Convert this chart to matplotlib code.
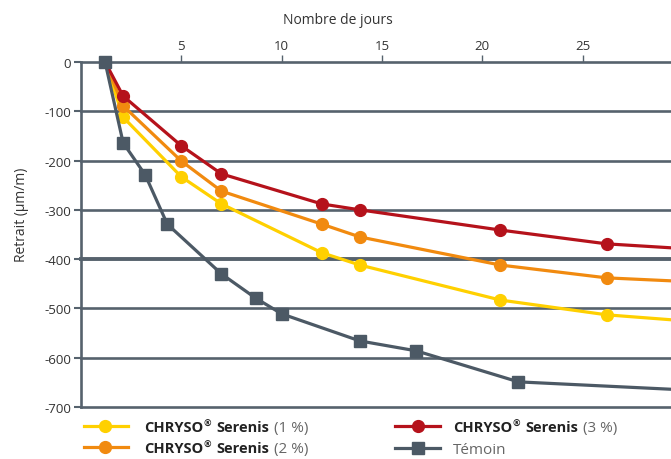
import matplotlib
matplotlib.use("Agg")
import matplotlib.pyplot as plt
from matplotlib.lines import Line2D

plt.rcParams['font.family'] = ['Open Sans', 'DejaVu Sans']

# days and shrinkage (um/m); last point sits on the right edge
days_adj = [1.2, 2.1, 5.0, 7.0, 12.0, 13.9, 20.9, 26.2, 29.4]
serenis_1 = [0, -112, -233, -288, -387, -412, -483, -513, -523]
serenis_2 = [0, -89, -201, -262, -329, -355, -412, -438, -444]
serenis_3 = [0, -69, -170, -227, -288, -300, -341, -369, -377]

days_ref = [1.2, 2.1, 3.2, 4.3, 7.0, 8.7, 10.0, 13.9, 16.7, 21.8, 29.4]
temoin = [0, -164, -229, -329, -430, -479, -511, -566, -586, -649, -664]

x_ticks = [5, 10, 15, 20, 25]
y_ticks = [0, -100, -200, -300, -400, -500, -600, -700]

c_yellow = '#ffd000'
c_orange = '#f18a0f'
c_red = '#b5121b'
c_gray = '#4c5965'
c_axis = '#56626d'

fig = plt.figure(figsize=(6.71, 4.60), dpi=100)
ax = fig.add_axes([81 / 671, 1 - 408 / 460, 1 - 81 / 671, (408 - 63) / 460])

ax.set_xlim(0, 29.4)
ax.set_ylim(-700, 0)

# horizontal grid
for v in y_ticks:
    ax.axhline(v, color=c_axis, lw=2.8 if v == -400 else 1.9, zorder=1, clip_on=False)

series = [
    (days_adj, serenis_1, c_yellow, 'o'),
    (days_adj, serenis_2, c_orange, 'o'),
    (days_adj, serenis_3, c_red, 'o'),
]
for xs, ys, c, m in series:
    ax.plot(xs, ys, color=c, lw=2.3, marker=m, markersize=8.5,
            markevery=slice(1, -1), zorder=3, clip_on=False)
ax.plot(days_ref, temoin, color=c_gray, lw=2.3, marker='s', markersize=9,
        markevery=slice(0, -1), zorder=4, clip_on=False)

for s in ['top', 'right', 'bottom']:
    ax.spines[s].set_visible(False)
ax.spines['left'].set_color(c_axis)
ax.spines['left'].set_linewidth(1.9)

ax.xaxis.tick_top()
ax.set_xticks(x_ticks)
ax.tick_params(axis='x', direction='out', length=5, width=1, color=c_axis,
               labelsize=9.5, pad=2, labelcolor='#333333')
ax.set_yticks(y_ticks)
ax.set_yticklabels([str(v) for v in y_ticks])
ax.tick_params(axis='y', direction='out', length=5, width=1.5, color=c_axis,
               labelsize=9.5, pad=2, labelcolor='#333333')

fig.text(338 / 671, 1 - 20 / 460, 'Nombre de jours', ha='center', va='center',
         fontsize=10, color='#333333')
fig.text(22 / 671, 1 - 215 / 460, 'Retrait (µm/m)', rotation=90, ha='center',
         va='center', fontsize=10, color='#333333')

# legend drawn by hand: bold product name with small raised ®, light dosage
legend_items = [
    (84, 128, 105, 427, 144, c_yellow, 'o', True, '(1 %)'),
    (84, 128, 105, 448, 144, c_orange, 'o', True, '(2 %)'),
    (395, 440, 418, 427, 453, c_red, 'o', True, '(3 %)'),
    (395, 440, 418, 449, 453, c_gray, 's', False, 'Témoin'),
]
W, H = 671, 460
for x0, x1, xm, y, xt, c, m, bold, light in legend_items:
    fig.add_artist(Line2D([x0 / W, x1 / W], [1 - y / H, 1 - y / H],
                          transform=fig.transFigure, color=c, lw=2.3))
    fig.add_artist(Line2D([xm / W], [1 - y / H], transform=fig.transFigure,
                          color=c, marker=m, markersize=8.5 if m == 'o' else 9))

fig.canvas.draw()
renderer = fig.canvas.get_renderer()


def put(x, y, s, **kw):
    t = fig.text(x, y, s, ha='left', va='baseline', **kw)
    return t.get_window_extent(renderer).x1 / fig.bbox.width


for x0, x1, xm, y, xt, c, m, bold, light in legend_items:
    xpos = xt / W
    base = 1 - (y + 5) / H
    if bold:
        xpos = put(xpos, base, 'CHRYSO', fontsize=10.5, fontweight='bold', color='#222222')
        xpos = put(xpos + 0.5 / W, base + 5 / H, '®', fontsize=6.5, fontweight='bold',
                   color='#222222')
        xpos = put(xpos + 5 / W, base, 'Serenis', fontsize=10.5, fontweight='bold',
                   color='#222222')
        xpos += 5 / W
    put(xpos, base, light, fontsize=11, color='#666666')

fig.savefig('out.png', dpi=100)
